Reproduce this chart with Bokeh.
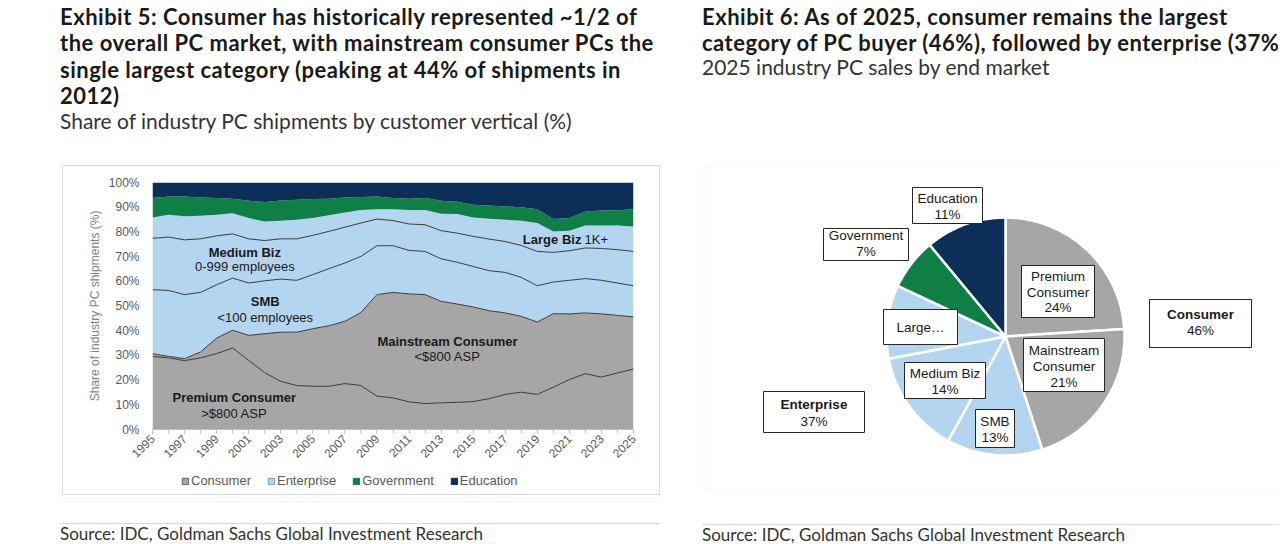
import numpy as np
from bokeh.plotting import figure
from bokeh.models import (Range1d, FixedTicker, PrintfTickFormatter, Legend, LegendItem,
                          Div, ColumnDataSource, BoxAnnotation)
from bokeh.layouts import row, column
from bokeh.core.properties import value
from bokeh.embed import file_html
from bokeh.resources import INLINE

# ---------------- data: Exhibit 5 (share of shipments, %) ----------------
years = list(range(1995, 2026))
premium = [29.6, 29.0, 27.9, 29.0, 30.7, 33.0, 28.0, 23.0, 19.5, 17.8, 17.5, 17.5, 18.6, 17.8, 13.5, 12.8,
           11.2, 10.5, 10.8, 11.0, 11.3, 12.5, 14.2, 15.1, 14.2, 17.1, 20.2, 22.6, 21.2, 22.9, 24.5]
mainstream = [1.1, 0.6, 0.8, 2.4, 6.3, 7.2, 10.1, 15.8, 19.9, 21.6, 23.3, 24.5, 25.2, 29.6, 41.1, 42.7,
              43.7, 44.1, 41.1, 39.8, 38.3, 35.6, 33.0, 30.7, 29.3, 29.8, 26.6, 24.6, 25.6, 23.3, 21.1]
smb = [25.9, 26.7, 25.9, 24.1, 21.6, 21.1, 21.2, 21.4, 21.5, 21.0, 21.9, 23.1, 23.6, 22.7, 19.8, 18.9,
       17.6, 17.5, 17.2, 16.9, 16.4, 16.2, 16.4, 15.8, 14.7, 12.8, 13.6, 13.9, 13.6, 13.1, 12.6]
medium = [20.8, 21.6, 22.2, 21.7, 19.8, 17.9, 17.9, 16.3, 16.3, 16.8, 15.9, 15.1, 14.5, 13.5, 10.8, 10.2,
          10.7, 10.8, 11.4, 11.8, 12.2, 12.8, 12.5, 12.9, 13.9, 12.0, 12.0, 12.4, 12.9, 13.5, 13.9]
large = [8.4, 9.0, 9.5, 9.3, 8.5, 8.4, 8.4, 7.7, 7.3, 7.7, 7.0, 6.5, 6.0, 5.3, 4.0, 4.6,
         5.7, 6.0, 6.8, 7.7, 7.6, 8.2, 8.8, 10.0, 11.5, 8.5, 8.1, 9.1, 9.3, 9.8, 10.1]
government = [7.9, 7.4, 8.0, 7.4, 6.8, 5.8, 7.0, 7.9, 8.2, 8.1, 7.7, 6.7, 6.0, 5.2, 5.1, 4.5,
              4.5, 4.8, 5.3, 5.0, 5.2, 5.4, 5.4, 5.5, 5.6, 5.0, 5.1, 5.7, 6.1, 6.2, 7.0]
education = [6.3, 5.7, 5.7, 6.1, 6.3, 6.6, 7.4, 7.9, 7.3, 7.0, 6.7, 6.6, 6.1, 5.9, 5.7, 6.3,
             6.6, 6.3, 7.4, 7.8, 9.0, 9.3, 9.7, 10.0, 10.8, 14.8, 14.4, 11.7, 11.3, 11.2, 10.8]
year_ticks = list(range(1995, 2026, 2))
pct_ticks = list(range(0, 101, 10))
legend_labels = ["Consumer", "Enterprise", "Government", "Education"]

# ---------------- data: Exhibit 6 (2025 mix, %) ----------------
pie_names = ["Premium Consumer", "Mainstream Consumer", "SMB", "Medium Biz", "Large Biz", "Government", "Education"]
pie_values = [24, 21, 13, 14, 10, 7, 11]
group_names = ["Consumer", "Enterprise"]
group_values = [46, 37]

# ---------------- styles ----------------
GRAY = "#a6a6a6"
LBLUE = "#b4d5ef"
GREEN = "#0f7f45"
NAVY = "#0c2f58"
FONT = "Liberation Sans"
TXT = "#1a1a1a"
BOX = "1px solid #dcdcdc"


def gap(w, h=1):
    return Div(width=w, height=h, text="", margin=0)


# ================= Exhibit 5: stacked area =================
src = ColumnDataSource(dict(year=years, premium=premium, mainstream=mainstream, smb=smb, medium=medium,
                            large=large, government=government, education=education))
stack_names = ["premium", "mainstream", "smb", "medium", "large", "government", "education"]
stack_colors = [GRAY, GRAY, LBLUE, LBLUE, LBLUE, GREEN, NAVY]

p = figure(width=598, height=300, x_range=Range1d(1995, 2025), y_range=Range1d(0, 100),
           output_backend="svg", toolbar_location=None,
           min_border_left=89, min_border_right=28, min_border_top=16, min_border_bottom=37,
           styles={"border": BOX, "border-bottom": "none"})
p.xgrid.visible = False
p.ygrid.visible = False
p.outline_line_color = None

areas = p.varea_stack(stackers=stack_names, x="year", color=stack_colors, source=src)
p.vline_stack(stackers=["premium", "mainstream", "smb", "medium"], x="year",
              color="#3c3c3c", line_width=1, source=src)

p.xaxis.ticker = FixedTicker(ticks=year_ticks, minor_ticks=years)
p.xaxis.major_label_orientation = np.pi / 4
p.xaxis.major_label_text_font = FONT
p.xaxis.major_label_text_font_size = "12px"
p.xaxis.major_label_text_color = "#595959"
p.xaxis.axis_line_color = "#bfbfbf"
p.xaxis.major_tick_line_color = "#bfbfbf"
p.xaxis.minor_tick_line_color = "#bfbfbf"
p.xaxis.major_tick_in = 0
p.xaxis.major_tick_out = 4
p.xaxis.minor_tick_in = 0
p.xaxis.minor_tick_out = 4
p.xaxis.major_label_standoff = 3

p.yaxis.ticker = FixedTicker(ticks=pct_ticks)
p.yaxis.formatter = PrintfTickFormatter(format="%d%%")
p.yaxis.major_label_text_font = FONT
p.yaxis.major_label_text_font_size = "12px"
p.yaxis.major_label_text_color = "#595959"
p.yaxis.axis_line_color = None
p.yaxis.major_tick_line_color = None
p.yaxis.minor_tick_line_color = None
p.yaxis.major_label_standoff = 7
p.yaxis.axis_label = "Share of industry PC shipments (%)"
p.yaxis.axis_label_text_font = FONT
p.yaxis.axis_label_text_font_style = "normal"
p.yaxis.axis_label_text_font_size = "12px"
p.yaxis.axis_label_text_color = "#7f7f7f"
p.yaxis.axis_label_standoff = 4

# in-chart annotations (positions in data space)
bold_x = [2000.76, 2002.03, 2013.4, 2000.1]
bold_y = [71.8, 51.8, 35.6, 13.0]
bold_t = ["Medium Biz", "SMB", "Mainstream Consumer", "Premium Consumer"]
p.text(x=bold_x, y=bold_y, text=bold_t, text_font=value(FONT), text_font_size="13px",
       text_font_style="bold", text_align="center", text_baseline="middle", text_color=TXT)
reg_x = [2000.76, 2002.03, 2013.4, 2000.1]
reg_y = [66.0, 45.5, 29.6, 6.6]
reg_t = ["0-999 employees", "<100 employees", "<$800 ASP", ">$800 ASP"]
p.text(x=reg_x, y=reg_y, text=reg_t, text_font=value(FONT), text_font_size="13px",
       text_align="center", text_baseline="middle", text_color=TXT)
p.text(x=[2018.1], y=[77.0], text=["Large Biz"], text_font=value(FONT), text_font_size="13px",
       text_font_style="bold", text_align="left", text_baseline="middle", text_color=TXT)
p.text(x=[2021.95], y=[77.0], text=["1K+"], text_font=value(FONT), text_font_size="13px",
       text_align="left", text_baseline="middle", text_color=TXT)

# legend strip (second figure inside the same box). Its swatch renderers draw the
# same series, but fall outside this strip's view, so only the legend shows.
lg = figure(width=598, height=30, x_range=Range1d(0, 1), y_range=Range1d(0, 1),
            output_backend="svg", toolbar_location=None, min_border=0,
            x_axis_location=None, y_axis_location=None,
            styles={"border": BOX, "border-top": "none"})
lg.xgrid.visible = False
lg.ygrid.visible = False
lg.outline_line_color = None
legend_colors = [GRAY, LBLUE, GREEN, NAVY]
legend_edges = ["#5f5f5f", "#7d9bb5", GREEN, NAVY]
legend_cols = ["premium", "smb", "government", "education"]
sw = [lg.quad(left="year", right="year", bottom=0, top=col, source=src, fill_color=c,
              line_color=e, line_width=1)
      for col, c, e in zip(legend_cols, legend_colors, legend_edges)]
legend = Legend(items=[LegendItem(label=t, renderers=[r]) for t, r in zip(legend_labels, sw)],
                orientation="horizontal", location=(29, 7), glyph_width=8, glyph_height=8,
                label_standoff=2, spacing=16, padding=0, margin=0, border_line_color=None,
                background_fill_alpha=0, label_text_font=FONT, label_text_font_size="13px",
                label_text_color="#595959", label_height=14)
lg.add_layout(legend)

# ================= Exhibit 6: pie =================
pf = figure(width=576, height=327, x_range=Range1d(-302, 274), y_range=Range1d(-156, 171),
            output_backend="svg", toolbar_location=None, min_border=0,
            x_axis_location=None, y_axis_location=None)
pf.xgrid.visible = False
pf.ygrid.visible = False
pf.outline_line_color = None

vals = np.array(pie_values, dtype=float)
cum = np.concatenate([[0.0], np.cumsum(vals / vals.sum())])
start = np.pi / 2 - 2 * np.pi * cum[:-1]
end = np.pi / 2 - 2 * np.pi * cum[1:]
pie_colors = [GRAY, GRAY, LBLUE, LBLUE, LBLUE, GREEN, NAVY]
pf.wedge(x=0, y=0, radius=119, start_angle=start, end_angle=end, direction="clock",
         fill_color=pie_colors, line_color="white", line_width=2.5)

# label boxes (pixel offsets from the pie centre)
box_l = [-93, -182, -122, -101, -30, 18, 16, 144, -242]
box_r = [-23, -97, -48, -20, 9, 99, 89, 246, -141]
box_t = [149, 108, 27, -26, -73, -2, 71, 37, -55]
box_b = [113, 76, -8, -62, -111, -55, 19, -11, -96]
pf.quad(left=box_l, right=box_r, top=box_t, bottom=box_b, fill_color="white",
        line_color="#262626", line_width=1)

pct = lambda v: f"{v}%"
lab_x = [-58, -58, -139.5, -139.5, -85, -60.5, -60.5, -10.5, -10.5,
         58.5, 58.5, 58.5, 52.5, 52.5, 52.5, 195, -191.5]
lab_y = [138.5, 122.5, 101.5, 85.5, 9, -37, -53, -85, -101,
         -14, -29.5, -45.5, 60, 44.5, 29, 6, -85]
lab_t = ["Education", pct(pie_values[6]), "Government", pct(pie_values[5]), "Large\u2026",
         "Medium Biz", pct(pie_values[3]), "SMB", pct(pie_values[2]),
         "Mainstream", "Consumer", pct(pie_values[1]), "Premium", "Consumer", pct(pie_values[0]),
         pct(group_values[0]), pct(group_values[1])]
pf.text(x=lab_x, y=lab_y, text=lab_t, text_font=value(FONT), text_font_size="13.5px",
        text_align="center", text_baseline="middle", text_color=TXT)
pf.text(x=[195, -191.5], y=[22, -68], text=group_names, text_font=value(FONT),
        text_font_size="13.5px", text_font_style="bold", text_align="center",
        text_baseline="middle", text_color=TXT)

pf.add_layout(BoxAnnotation(left=-301.5, right=300, bottom=-155.5, top=170.5, fill_alpha=0,
                            line_color="#dcdcdc", line_width=1))

# ================= page texts =================
TFONT = "Lato, 'Open Sans', sans-serif"
tstyle = (f"font-family:{TFONT};font-weight:bold;font-size:22px;letter-spacing:0.5px;"
          "line-height:26.4px;color:#1a1a1a;white-space:nowrap;")
sstyle = (f"font-family:{TFONT};font-weight:normal;font-size:21px;"
          "line-height:22px;color:#333333;white-space:nowrap;")
left_title = Div(width=600, height=161, margin=0, styles={"overflow": "hidden"}, text=(
    f'<div style="{tstyle}">Exhibit 5: Consumer has historically represented ~1/2 of<br>'
    'the overall PC market, with mainstream consumer PCs the<br>'
    'single largest category (peaking at 44% of shipments in<br>2012)</div>'
    f'<div style="{sstyle}">Share of industry PC shipments by customer vertical (%)</div>'))
right_title = Div(width=577, height=161, margin=0, styles={"overflow": "hidden"}, text=(
    f'<div style="{tstyle}">Exhibit 6: As of 2025, consumer remains the largest<br>'
    'category of PC buyer (46%), followed by enterprise (37%)</div>'
    f'<div style="{sstyle}line-height:20px;">2025 industry PC sales by end market</div>'))

src_style = f"font-family:{TFONT};font-size:17px;line-height:17px;color:#333;white-space:nowrap;"
left_foot = Div(width=600, height=49, margin=0, styles={"overflow": "hidden"}, text=(
    '<div style="width:600px;height:6px"></div>'
    '<div style="width:600px;border-top:1px solid #f2f2f2;height:22px"></div>'
    '<div style="width:600px;border-top:1px solid #d9d9d9;height:2px"></div>'
    f'<div style="{src_style}">Source: IDC, Goldman Sachs Global Investment Research</div>'))
right_foot = Div(width=577, height=52, margin=0, styles={"overflow": "hidden"}, text=(
    '<div style="width:577px;height:32px"></div>'
    '<div style="width:577px;border-top:1px solid #d9d9d9;height:2px"></div>'
    f'<div style="{src_style}">Source: IDC, Goldman Sachs Global Investment Research</div>'))

left_col = column(left_title, row(gap(2, 330), column(p, lg)), left_foot)
right_col = column(right_title, row(gap(1, 327), pf), right_foot)
page = column(gap(10, 4), row(gap(60), left_col, gap(42), right_col))

open("out.html", "w").write(file_html(page, INLINE))
